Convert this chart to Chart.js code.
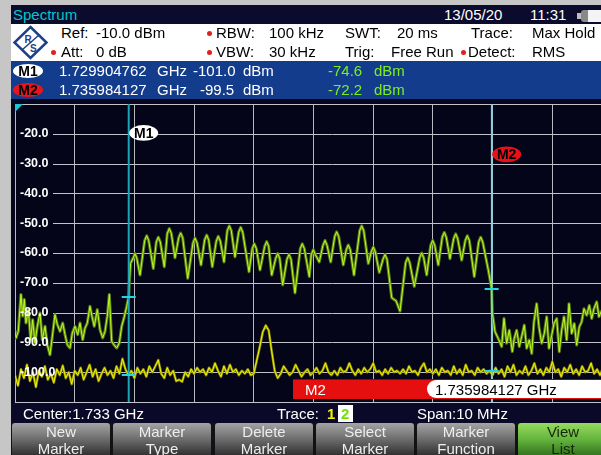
<!DOCTYPE html>
<html>
<head>
<meta charset="utf-8">
<script src="https://cdn.jsdelivr.net/npm/chart.js@4.4.1/dist/chart.umd.min.js"></script>
<style>
html, body { margin: 0; padding: 0; overflow: hidden; }
body { width: 601px; height: 455px; background: #c6c6c6; position: relative; font-family: "Liberation Sans", Arial, sans-serif; }
.box { position: absolute; }
.t { position: absolute; font-size: 15px; line-height: 15px; white-space: pre; }
.dot { position: absolute; width: 5px; height: 5px; border-radius: 50%; background: #e0201c; }
.badge { position: absolute; width: 30px; height: 14px; border-radius: 50%; font: bold 14px "Liberation Sans", Arial, sans-serif; line-height: 15px; text-align: center; color: #000; }
.key { position: absolute; top: 423px; width: 98px; height: 34px; border-radius: 3px 3px 0 0;
       background: linear-gradient(#a4a4a4, #707070 45%, #2a2a2a); color: #ededed;
       font-size: 15px; line-height: 17px; text-align: center; }
.key.on { background: linear-gradient(#96dc5e, #62b23c 50%, #2f6c1c); color: #15260a; }
#plot { position: absolute; left: 11px; top: 90px; }
</style>
</head>
<body>
<div class="box" style="left:11px;top:5px;width:590px;height:450px;background:#06061c"></div>
<canvas id="plot" width="605" height="326"></canvas>

<!-- title bar -->
<div class="box" style="left:11px;top:5px;width:590px;height:19px;background:#0b0b2e"></div>
<div class="t" style="left:13px;top:6.6px;color:#00c8c8">Spectrum</div>
<div class="t" style="left:444px;top:6.6px;color:#fff">13/05/20</div>
<div class="t" style="left:530px;top:6.6px;color:#fff">11:31</div>
<div class="box" style="left:577px;top:13px;width:4px;height:6px;background:#bdbdbd"></div>
<div class="box" style="left:581px;top:10px;width:22px;height:12px;border-radius:3px;background:linear-gradient(90deg,#8a8a8a 0 30%,#f4f4f4 30%)"></div>

<!-- settings header -->
<div class="box" style="left:11px;top:24px;width:590px;height:37px;background:#fff"></div>
<svg class="box" style="left:12px;top:25px" width="37" height="35" viewBox="0 0 37 35">
  <polygon points="18.5,2 34.5,17.5 18.5,33 2.5,17.5" fill="none" stroke="#1e3f8a" stroke-width="2.5"/>
  <line x1="10" y1="25" x2="27" y2="10" stroke="#1e3f8a" stroke-width="1.5"/>
  <text x="12.5" y="18" font-family="Liberation Sans, Arial" font-size="10" font-weight="bold" fill="#1e3f8a">R</text>
  <text x="18" y="27" font-family="Liberation Sans, Arial" font-size="10" font-weight="bold" fill="#1e3f8a">S</text>
</svg>
<div class="t" style="left:61px;top:25px">Ref:</div>
<div class="t" style="left:96px;top:25px">-10.0 dBm</div>
<div class="dot" style="left:207px;top:31px"></div>
<div class="t" style="left:216px;top:25px">RBW:</div>
<div class="t" style="left:269px;top:25px">100 kHz</div>
<div class="t" style="left:345px;top:25px">SWT:</div>
<div class="t" style="left:397px;top:25px">20 ms</div>
<div class="t" style="left:471px;top:25px">Trace:</div>
<div class="t" style="left:532px;top:25px">Max Hold</div>
<div class="dot" style="left:51px;top:50px"></div>
<div class="t" style="left:61px;top:44px">Att:</div>
<div class="t" style="left:96px;top:44px">0 dB</div>
<div class="dot" style="left:207px;top:50px"></div>
<div class="t" style="left:216px;top:44px">VBW:</div>
<div class="t" style="left:269px;top:44px">30 kHz</div>
<div class="t" style="left:345px;top:44px">Trig:</div>
<div class="t" style="left:391px;top:44px">Free Run</div>
<div class="dot" style="left:461px;top:50px"></div>
<div class="t" style="left:468px;top:44px">Detect:</div>
<div class="t" style="left:532px;top:44px">RMS</div>

<!-- marker table -->
<div class="box" style="left:11px;top:61px;width:590px;height:38px;background:#143c8c"></div>
<div class="badge" style="left:13px;top:64px;background:#fff">M1</div>
<div class="badge" style="left:13px;top:83px;background:#e8141e">M2</div>
<div class="t" style="left:59px;top:63.3px;color:#fff">1.729904762</div>
<div class="t" style="left:157px;top:63.3px;color:#fff">GHz</div>
<div class="t" style="left:193px;top:63.3px;color:#fff">-101.0</div>
<div class="t" style="left:243px;top:63.3px;color:#fff">dBm</div>
<div class="t" style="left:328px;top:63.3px;color:#7cf01c">-74.6</div>
<div class="t" style="left:374px;top:63.3px;color:#7cf01c">dBm</div>
<div class="t" style="left:59px;top:81.6px;color:#fff">1.735984127</div>
<div class="t" style="left:157px;top:81.6px;color:#fff">GHz</div>
<div class="t" style="left:200px;top:81.6px;color:#fff">-99.5</div>
<div class="t" style="left:243px;top:81.6px;color:#fff">dBm</div>
<div class="t" style="left:328px;top:81.6px;color:#7cf01c">-72.2</div>
<div class="t" style="left:374px;top:81.6px;color:#7cf01c">dBm</div>

<!-- active marker bar -->
<div class="box" style="left:293px;top:379px;width:308px;height:20px;background:#e50f0f;border-top:1px solid #a00000;box-sizing:border-box"></div>
<div class="t" style="left:305px;top:382.3px;color:#fff">M2</div>
<div class="box" style="left:427px;top:380px;width:180px;height:18px;border-radius:9px 0 0 9px;background:#fff"></div>
<div class="t" style="left:435px;top:382.3px;color:#000">1.735984127 GHz</div>

<!-- status line -->
<div class="box" style="left:11px;top:403px;width:590px;height:20px;background:#0a0a28"></div>
<div class="t" style="left:23px;top:405.6px;color:#fff">Center:1.733 GHz</div>
<div class="t" style="left:277px;top:405.6px;color:#fff">Trace:</div>
<div class="t" style="left:327px;top:405.6px;color:#f2f200;font-weight:bold">1</div>
<div class="box" style="left:338px;top:405px;width:15px;height:17px;background:#fff"></div>
<div class="t" style="left:341px;top:405.6px;color:#74e000;font-weight:bold">2</div>
<div class="t" style="left:417px;top:405.6px;color:#fff">Span:10 MHz</div>

<!-- soft keys -->
<div class="box" style="left:11px;top:423px;width:590px;height:32px;background:#121216"></div>
<div class="key" style="left:12px;top:423.3px">New<br>Marker</div>
<div class="key" style="left:113px;top:423.3px">Marker<br>Type</div>
<div class="key" style="left:215px;top:423.3px">Delete<br>Marker</div>
<div class="key" style="left:316px;top:423.3px">Select<br>Marker</div>
<div class="key" style="left:417px;top:423.3px">Marker<br>Function</div>
<div class="key on" style="left:518px;top:423.3px;width:90px">View<br>List</div>

<script>
// sweep: 1.728 GHz .. 1.738 GHz, frequencies below are MHz above the start
const startMHz = 1728;
const spanMHz = 10;
const refLevel = -10;
const bottomLevel = -110;

// trace 1 (yellow), one value every 0.05 MHz
const trace1Step = 0.05;
const trace1Level = [
  -101, -104.5, -99, -102, -97.5, -103, -100, -105, -99.5, -101.5,
  -98, -102.5, -100.5, -103.5, -99, -101, -97.8, -102, -100, -104,
  -99.5, -101, -98.5, -102.5, -100, -97.5, -101.5, -99, -103, -100.5,
  -98.5, -101, -99.5, -102, -98, -100.5, -95.5, -99, -101, -99.5,
  -102, -98.5, -100.5, -99, -101.5, -98, -100, -98, -95.9, -100.5,
  -102, -98.5, -101, -99.5, -103, -102.5, -103.2, -100, -101.5, -99,
  -100.5, -98.5, -100, -99, -101, -98.5, -100, -97, -99.5, -101.5,
  -98, -100.5, -97.5, -100, -99, -101, -99.5, -100.5, -99, -101,
  -100.5, -96, -91.5, -86.5, -84.3, -86, -93, -99.5, -102, -100.5,
  -98, -99.5, -101, -100, -97.5, -99.5, -101.5, -100, -99, -101,
  -100, -98.5, -100.5, -99.5, -97, -100, -101, -99.5, -101, -98.5,
  -100, -99.5, -97, -99.5, -101, -99, -100.5, -98.5, -100, -99,
  -97, -100, -99.5, -101, -99, -100.5, -98.5, -100, -99.5, -100.5,
  -99, -100.5, -98, -100, -99.5, -101, -98.5, -97, -100, -99,
  -100.5, -99, -101, -98.5, -100, -99.5, -101, -98, -100.5, -99,
  -101, -97.5, -100, -99.5, -101, -98.5, -100, -99, -100.5, -99.5,
  -101, -98.5, -100.5, -99, -101.5, -98, -100, -97.5, -101, -99.5,
  -100.5, -98, -101, -99.5, -97, -100.5, -99, -101, -98.5, -100,
  -96.5, -100, -99, -101.5, -98.5, -100, -97.5, -100.5, -99, -101,
  -98, -100, -99.5, -97, -100.5, -99, -101, -98.5, -100, -99,
  -100.5
];

// trace 2 (green): [MHz above start, dBm]
const trace2 = [
  [0.000, -86.0], [0.017, -88.5], [0.055, -86.3], [0.100, -73.9], [0.129, -81.2], [0.156, -75.6],
  [0.184, -83.5], [0.223, -79.0], [0.263, -89.1], [0.296, -82.4], [0.335, -90.2], [0.374, -84.6],
  [0.419, -80.1], [0.457, -89.1], [0.503, -84.6], [0.541, -90.8], [0.586, -94.2], [0.632, -86.9],
  [0.670, -80.7], [0.709, -84.0], [0.754, -86.3], [0.799, -83.5], [0.838, -87.4], [0.876, -90.8],
  [0.921, -91.9], [0.960, -86.9], [1.005, -84.6], [1.050, -87.4], [1.089, -83.5], [1.134, -89.1],
  [1.173, -85.2], [1.211, -83.5], [1.256, -77.9], [1.295, -81.8], [1.328, -84.6], [1.379, -79.0],
  [1.424, -85.7], [1.469, -88.5], [1.508, -86.3], [1.546, -81.2], [1.580, -73.9], [1.620, -89.7],
  [1.658, -90.8], [1.704, -91.9], [1.747, -90.2], [1.787, -84.6], [1.826, -81.8], [1.871, -77.9],
  [1.905, -74.6], [1.915, -70.0], [1.935, -63.5],
  [1.982, -61.6], [2.010, -60.2], [2.038, -61.6], [2.094, -67.4],
  [2.172, -55.8], [2.206, -54.2], [2.239, -55.8], [2.317, -65.2],
  [2.367, -56.3], [2.400, -54.7], [2.434, -56.3], [2.501, -64.6],
  [2.551, -53.4], [2.585, -51.8], [2.618, -53.4], [2.680, -61.6],
  [2.742, -54.9], [2.775, -53.3], [2.809, -54.9], [2.893, -68.5],
  [2.982, -56.6], [3.015, -55.0], [3.049, -56.6], [3.116, -64.0],
  [3.177, -55.6], [3.211, -54.0], [3.244, -55.6], [3.305, -64.6],
  [3.372, -56.0], [3.405, -54.4], [3.439, -56.0], [3.501, -63.0],
  [3.556, -52.5], [3.590, -50.9], [3.623, -52.5], [3.685, -61.3],
  [3.747, -53.0], [3.780, -51.4], [3.814, -53.0], [3.920, -66.3],
  [3.975, -58.5], [4.008, -56.9], [4.042, -58.5], [4.104, -65.7],
  [4.182, -57.8], [4.216, -56.2], [4.249, -57.8], [4.300, -67.4],
  [4.367, -61.8], [4.400, -60.2], [4.434, -61.8], [4.484, -70.7],
  [4.556, -62.1], [4.590, -60.5], [4.623, -62.1], [4.690, -73.4],
  [4.779, -58.5], [4.812, -56.9], [4.846, -58.5], [4.930, -67.9],
  [4.963, -60.5], [4.997, -58.9], [5.030, -60.5], [5.097, -63.0],
  [5.159, -57.4], [5.193, -55.8], [5.226, -57.4], [5.288, -63.0],
  [5.355, -54.5], [5.388, -52.9], [5.422, -54.5], [5.499, -64.0],
  [5.549, -58.9], [5.583, -57.3], [5.616, -58.9], [5.678, -67.4],
  [5.774, -52.5], [5.807, -50.9], [5.841, -52.5], [5.918, -63.5],
  [5.968, -59.6], [6.002, -58.0], [6.035, -59.6], [6.102, -66.5],
  [6.164, -62.1], [6.198, -60.5], [6.231, -62.1], [6.310, -75.0], [6.348, -75.6], [6.382, -76.0], [6.449, -79.5],
  [6.544, -63.2], [6.578, -61.6], [6.611, -63.2], [6.688, -71.2],
  [6.779, -61.6], [6.812, -60.0], [6.846, -61.6], [6.896, -67.4],
  [6.963, -57.4], [6.996, -55.8], [7.030, -57.4], [7.090, -64.0],
  [7.157, -54.7], [7.191, -53.1], [7.224, -54.7], [7.286, -61.9],
  [7.348, -55.2], [7.382, -53.6], [7.415, -55.2], [7.482, -62.4],
  [7.543, -55.8], [7.576, -54.2], [7.610, -55.8], [7.693, -67.9],
  [7.767, -56.3], [7.801, -54.7], [7.834, -56.3], [7.928, -65.7], [7.973, -70.7], [7.984, -72.2],
  [7.995, -80.0], [8.040, -86.4], [8.095, -88.7], [8.152, -91.4], [8.191, -82.0], [8.236, -90.3],
  [8.280, -85.9], [8.330, -93.1], [8.363, -88.7], [8.403, -85.9], [8.447, -91.4], [8.487, -88.1],
  [8.531, -84.2], [8.571, -92.0], [8.615, -89.2], [8.655, -93.7], [8.693, -83.1], [8.738, -77.0],
  [8.777, -84.8], [8.822, -90.3], [8.866, -87.0], [8.906, -81.4], [8.945, -92.0], [8.990, -87.6],
  [9.028, -83.7], [9.074, -82.0], [9.117, -93.1], [9.157, -85.9], [9.196, -81.4], [9.241, -89.2],
  [9.280, -77.0], [9.325, -87.0], [9.369, -83.7], [9.409, -90.9], [9.452, -84.8], [9.492, -83.1],
  [9.531, -78.7], [9.576, -80.9], [9.620, -77.6], [9.660, -82.0], [9.698, -78.7], [9.744, -76.4],
  [9.782, -81.4], [9.816, -79.8], [9.880, -78.0], [9.950, -83.0], [10.000, -80.0]
];

// markers
const markerNames = ['M1', 'M2'];
const markerOffset = [1.904762, 7.984127];   // MHz above start
const markerTrace1 = [-101.0, -99.5];
const markerTrace2 = [-74.6, -72.2];

const trace1Points = trace1Level.map((v, i) => ({ x: i * trace1Step, y: v }));
const trace2Points = trace2.map(p => ({ x: p[0], y: p[1] }));

const plotBackground = {
  id: 'plotBackground',
  beforeDraw(chart) {
    const { ctx, chartArea: a } = chart;
    ctx.save();
    ctx.fillStyle = '#05051a';
    ctx.fillRect(a.left, a.top, a.right - a.left, a.bottom - a.top);
    ctx.restore();
  },
  beforeDatasetsDraw(chart) {
    // level grid starts right of the labels, like on the instrument
    const { ctx, chartArea: a, scales: { y } } = chart;
    ctx.save();
    ctx.strokeStyle = '#c2c2ca';
    ctx.lineWidth = 1;
    y.ticks.forEach(t => {
      const py = Math.round(y.getPixelForValue(t.value)) + 0.5;
      const edge = t.value === refLevel || t.value === bottomLevel;
      ctx.beginPath();
      ctx.moveTo(edge ? a.left : a.left + 38, py);
      ctx.lineTo(a.right, py);
      ctx.stroke();
    });
    ctx.fillStyle = '#19c6d8';
    ctx.beginPath();
    ctx.moveTo(a.left, a.top);
    ctx.lineTo(a.left + 8, a.top);
    ctx.lineTo(a.left, a.top + 8);
    ctx.fill();
    ctx.restore();
  }
};

const markerLines = {
  id: 'markerLines',
  afterDatasetsDraw(chart) {
    const { ctx, chartArea: a, scales: { x, y } } = chart;
    const lineColor = ['#1aa6b8', '#5ce4f4'];
    const tagFill = ['#ffffff', '#e8101a'];
    const tagLevel = [-19.7, -26.9];
    markerNames.forEach((name, i) => {
      const px = x.getPixelForValue(markerOffset[i]);
      ctx.save();
      ctx.strokeStyle = lineColor[i];
      ctx.lineWidth = i === 0 ? 2 : 1.5;
      ctx.beginPath();
      ctx.moveTo(px, a.top);
      ctx.lineTo(px, a.bottom);
      ctx.stroke();

      ctx.strokeStyle = '#22d4e6';
      ctx.lineWidth = 2;
      [markerTrace1[i], markerTrace2[i]].forEach(v => {
        const py = Math.round(y.getPixelForValue(v));
        ctx.beginPath();
        ctx.moveTo(px - 7, py);
        ctx.lineTo(px + 7, py);
        ctx.stroke();
      });

      const ty = y.getPixelForValue(tagLevel[i]);
      ctx.fillStyle = tagFill[i];
      ctx.beginPath();
      ctx.ellipse(px + 15, ty, 14.5, 7.8, 0, 0, Math.PI * 2);
      ctx.fill();
      ctx.fillStyle = '#000';
      ctx.font = 'bold 14px "Liberation Sans", Arial, sans-serif';
      ctx.textAlign = 'center';
      ctx.textBaseline = 'middle';
      ctx.fillText(name, px + 15, ty + 1);
      ctx.restore();
    });
  }
};

const lineStyle = { pointRadius: 0, tension: 0, fill: false, borderJoinStyle: 'round' };

new Chart(document.getElementById('plot'), {
  type: 'line',
  data: {
    datasets: [
      { ...lineStyle, label: 'Trace 2', data: trace2Points, borderColor: '#b6ff1e', borderWidth: 1, order: 0 },
      { ...lineStyle, label: 'Trace 1', data: trace1Points, borderColor: '#f4f400', borderWidth: 1, order: 1 },
      { ...lineStyle, label: 'Trace 2 shade', data: trace2Points, borderColor: '#5e7c18', borderWidth: 3, order: 2 },
      { ...lineStyle, label: 'Trace 1 shade', data: trace1Points, borderColor: '#8e8e08', borderWidth: 2.5, order: 3 }
    ]
  },
  options: {
    responsive: false,
    devicePixelRatio: 1,
    animation: false,
    events: [],
    layout: { padding: { left: 4, right: 4, top: 14, bottom: 14 } },
    scales: {
      x: {
        type: 'linear', min: 0, max: spanMHz,
        ticks: { display: false, stepSize: 1 },
        grid: { color: '#b8b8c2', drawTicks: false },
        border: { display: false }
      },
      y: {
        min: bottomLevel, max: refLevel,
        afterFit: s => { s.width = 0; },
        ticks: {
          stepSize: 10, mirror: true, padding: 5, z: 1, color: '#ffffff',
          font: { family: '"Liberation Sans", Arial, sans-serif', size: 12.5, weight: 'bold' },
          callback: v => (v === refLevel || v === bottomLevel) ? '' : v.toFixed(1)
        },
        grid: { display: false },
        border: { display: false }
      }
    },
    plugins: { legend: { display: false }, tooltip: { enabled: false } }
  },
  plugins: [plotBackground, markerLines]
});
</script>
</body>
</html>
